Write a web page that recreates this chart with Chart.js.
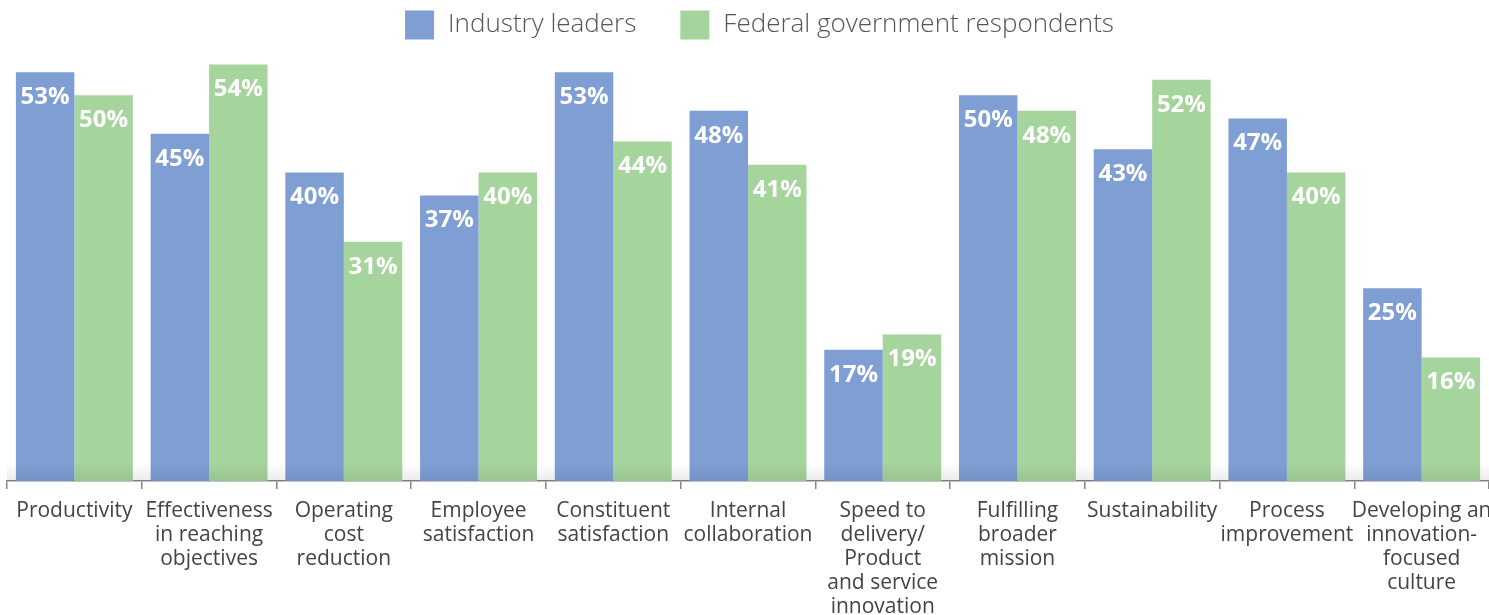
<!DOCTYPE html>
<html>
<head>
<meta charset="utf-8">
<script src="https://cdn.jsdelivr.net/npm/chart.js@4/dist/chart.umd.min.js"></script>
<style>
  html, body { margin: 0; padding: 0; background: #fff; overflow: hidden; }
  #wrap { width: 1489px; height: 629px; }
</style>
</head>
<body>
<div id="wrap"><canvas id="chart"></canvas></div>
<script>
const categories = [
  ["Productivity"],
  ["Effectiveness", "in reaching", "objectives"],
  ["Operating", "cost", "reduction"],
  ["Employee", "satisfaction"],
  ["Constituent", "satisfaction"],
  ["Internal", "collaboration"],
  ["Speed to", "delivery/", "Product", "and service", "innovation"],
  ["Fulfilling", "broader", "mission"],
  ["Sustainability"],
  ["Process", "improvement"],
  ["Developing an", "innovation-", "focused", "culture"]
];
const industryLeaders = [53, 45, 40, 37, 53, 48, 17, 50, 43, 47, 25];
const federalRespondents = [50, 54, 31, 40, 44, 41, 19, 48, 52, 40, 16];

const FONT = "'Open Sans', 'Noto Sans', sans-serif";

// white % labels just inside the top of each bar
const barLabels = {
  id: "barLabels",
  afterDatasetsDraw(chart) {
    const ctx = chart.ctx;
    ctx.save();
    ctx.fillStyle = "#fff";
    ctx.font = "bold 24px " + FONT;
    ctx.textAlign = "center";
    ctx.textBaseline = "middle";
    chart.data.datasets.forEach((ds, i) => {
      chart.getDatasetMeta(i).data.forEach((bar, j) => {
        ctx.fillText(ds.data[j] + "%", bar.x, bar.y + 25);
      });
    });
    ctx.restore();
  }
};

// soft shadow along the base line
const baseShadow = {
  id: "baseShadow",
  afterDatasetsDraw(chart) {
    const { ctx, chartArea } = chart;
    const y = chartArea.bottom;
    const g = ctx.createLinearGradient(0, y - 18, 0, y);
    g.addColorStop(0, "rgba(0,0,0,0)");
    g.addColorStop(1, "rgba(0,0,0,0.08)");
    ctx.save();
    ctx.fillStyle = g;
    ctx.fillRect(chartArea.left, y - 18, chartArea.right - chartArea.left, 18);
    ctx.restore();
  }
};

// legend drawn by hand so box/text gaps match
const topLegend = {
  id: "topLegend",
  afterDraw(chart) {
    const ctx = chart.ctx;
    const box = 29, gapText = 14, gapItem = 44, cy = 25;
    ctx.save();
    ctx.font = "300 26px " + FONT;
    ctx.textBaseline = "middle";
    const items = chart.data.datasets.map(ds => ({
      text: ds.label, color: ds.backgroundColor, w: ctx.measureText(ds.label).width
    }));
    let total = items.reduce((s, it) => s + box + gapText + it.w, 0) + gapItem * (items.length - 1);
    let x = chart.width / 2 + 15 - total / 2;
    items.forEach(it => {
      ctx.fillStyle = it.color;
      ctx.fillRect(x, cy - box / 2, box, box);
      x += box + gapText;
      ctx.fillStyle = "#555";
      ctx.fillText(it.text, x, cy);
      x += it.w + gapItem;
    });
    ctx.restore();
  }
};

new Chart(document.getElementById("chart"), {
  type: "bar",
  data: {
    labels: categories,
    datasets: [
      {
        label: "Industry leaders",
        data: industryLeaders,
        backgroundColor: "#7f9ed3",
        categoryPercentage: 0.868,
        barPercentage: 1
      },
      {
        label: "Federal government respondents",
        data: federalRespondents,
        backgroundColor: "#a6d49d",
        categoryPercentage: 0.868,
        barPercentage: 1
      }
    ]
  },
  options: {
    responsive: true,
    maintainAspectRatio: false,
    animation: false,
    layout: { padding: { left: 7, right: 0, top: 49, bottom: 0 } },
    plugins: {
      tooltip: { enabled: false },
      legend: { display: false }
    },
    scales: {
      x: {
        afterFit(scale) {
          scale.paddingLeft = 0;
          scale.paddingRight = 0;
        },
        grid: {
          offset: true,
          drawOnChartArea: false,
          drawTicks: true,
          tickLength: 8,
          color: "#888",
          lineWidth: 1.5
        },
        border: { display: true, color: "#888", width: 1.5 },
        ticks: {
          color: "#444",
          maxRotation: 0,
          autoSkip: false,
          padding: 10,
          font: { family: FONT, size: 21, lineHeight: 1.143 }
        }
      },
      y: {
        display: false,
        min: 0,
        max: 56
      }
    }
  },
  plugins: [barLabels, baseShadow, topLegend]
});
</script>
</body>
</html>
